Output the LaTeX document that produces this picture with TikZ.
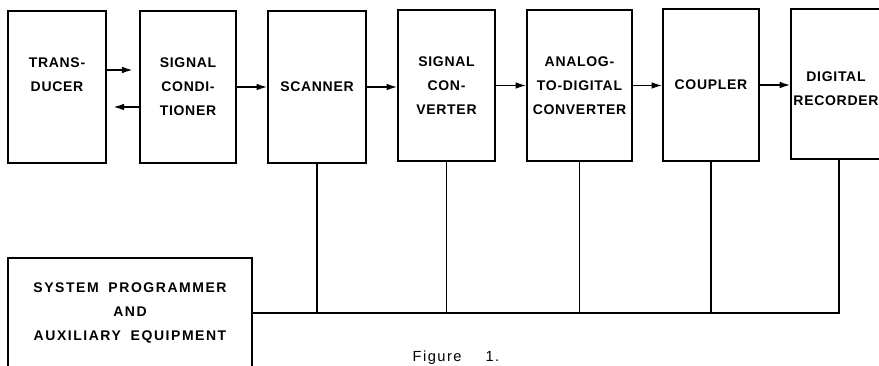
\documentclass[tikz,border=0pt]{standalone}
\usepackage{fontspec}
\usepackage{tikz}
\usetikzlibrary{arrows.meta}
\newfontfamily\lettr{Liberation Sans}[LetterSpace=5,WordSpace=1.8]
\tikzset{
  blk/.style={draw,line width=1.1pt,inner sep=0pt,align=center,font=\lettr\bfseries\fontsize{10.5}{18}\selectfont},
  arr/.style={line width=1.1pt,-{Latex[length=8pt,width=5pt]}},
  bus/.style={line width=0.8pt}
}

\begin{document}
\begin{tikzpicture}[x=0.75pt,y=-0.75pt]
\useasboundingbox (0,0) rectangle (879,366);
% top row of blocks
\node[blk,minimum width=73.5pt,minimum height=114pt] (td) at (57,87) {TRANS-\\DUCER\\\mbox{}};
\node[blk,minimum width=72pt,minimum height=114pt] (sc) at (188,87) {SIGNAL\\CONDI-\\TIONER};
\node[blk,minimum width=73.5pt,minimum height=114pt] (scn) at (317,87) {SCANNER};
\node[blk,minimum width=72.75pt,minimum height=113.25pt] (cv) at (446.5,85.5) {SIGNAL\\CON-\\VERTER};
\node[blk,minimum width=78.75pt,minimum height=113.25pt] (adc) at (579.5,85.5) {ANALOG-\\TO-DIGITAL\\CONVERTER};
\node[blk,minimum width=72pt,minimum height=114pt] (cp) at (711,85) {COUPLER};
\node[blk,minimum width=72pt,minimum height=112.5pt] (rec) at (839,84) {};
\node[font=\lettr\bfseries\fontsize{10.5}{18}\selectfont,align=center] (rectxt) at (836,89) {DIGITAL\\RECORDER};
% programmer
\node[blk,minimum width=183pt,minimum height=82.5pt,font=\lettr\bfseries\addfontfeature{LetterSpace=11}\fontsize{10.5}{18}\selectfont] (prog) at (130,313) {SYSTEM PROGRAMMER\\AND\\AUXILIARY EQUIPMENT};
% signal path
\draw[arr,shorten >=5pt] ([yshift=12.75pt]td.east) -- ([yshift=12.75pt]td.east -| sc.west);
\draw[arr,shorten >=5pt] ([yshift=-15pt]sc.west) -- ([yshift=-15pt]sc.west -| td.east);
\draw[arr] (sc.east) -- (sc.east -| scn.west);
\draw[arr] (scn.east) -- (scn.east -| cv.west);
\draw[arr] (cv.east) -- (cv.east -| adc.west);
\draw[arr] (adc.east) -- (adc.east -| cp.west);
\draw[arr] (cp.east) -- (cp.east -| rec.west);
% control bus
\draw[bus] (prog.east) -- (prog.east -| rec.south) -- (rec.south);
\foreach \b in {scn,cv,adc,cp} {\draw[bus] (\b.south) -- (\b.south |- prog.east);}
\node[font=\lettr\addfontfeature{LetterSpace=10}\fontsize{11}{12}\selectfont,anchor=base] (cap) at (456,362) {Figure\hspace{18pt}1.};
\end{tikzpicture}
\end{document}
